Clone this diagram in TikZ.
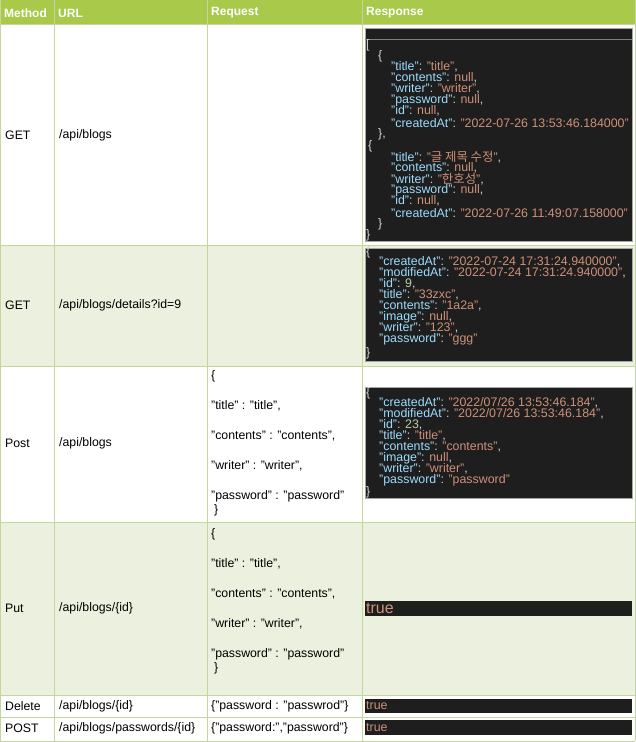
\documentclass[tikz,border=0pt]{standalone}
\usepackage{fontspec}
\setmainfont{Liberation Sans}
\newfontfamily\kr{Noto Sans CJK KR}
\definecolor{hdr}{HTML}{A9C94A}
\definecolor{alt}{HTML}{EBF1DE}
\definecolor{grid}{HTML}{C4D79B}
\definecolor{dk}{HTML}{1E1E1E}
\definecolor{jkey}{HTML}{9CDCFE}
\definecolor{jstr}{HTML}{CE9178}
\definecolor{jnum}{HTML}{B5CEA8}
\definecolor{jpun}{HTML}{D4D4D4}
\newcommand\jk[1]{\textcolor{jkey}{"#1"}\textcolor{jpun}{:} }
\newcommand\js[1]{\textcolor{jstr}{"#1"}}
\newcommand\jn[1]{\textcolor{jnum}{#1}}
\newcommand\jnull{\textcolor{jstr}{null}}
\newcommand\jc{\textcolor{jpun}{,}}
\begin{document}
\begin{tikzpicture}[x=1pt,y=-1pt,
  cell/.style={anchor=west,inner sep=0pt,font=\fontsize{12.3}{12}\selectfont},
  head/.style={anchor=west,inner sep=0pt,font=\bfseries\fontsize{12}{12}\selectfont,text=white},
  js/.style={anchor=west,inner sep=0pt,font=\fontsize{12.4}{11}\selectfont,text=jpun},
  dbox/.style={fill=dk,draw=gray!70}]
\useasboundingbox (0,0) rectangle (636,742);
\fill[white] (0,0) rectangle (636,742);
\fill[hdr] (0,0) rectangle (635,24);
\fill[alt] (0,245) rectangle (635,366);
\fill[alt] (0,522) rectangle (635,695);
\foreach \y in {24,245,366,522,695,717,741} \draw[grid] (0,\y) -- (635,\y);
\foreach \x in {0,54,207,362,635} \draw[grid] (\x,0) -- (\x,741);
\node[head] (h1) at (4,13) {Method};
\node[head] (h2) at (58,13) {URL};
\node[head] (h3) at (211,13) {Request};
\node[head] (h4) at (366,13) {Response};
% methods & urls
\node[cell] (m1) at (5,135) {GET};\node[cell] (u1) at (59,135) {/api/blogs};
\node[cell] (m2) at (5,305) {GET};\node[cell] (u2) at (59,305) {/api/blogs/details?id=9};
\node[cell] (m3) at (5,443) {Post};\node[cell] (u3) at (59,443) {/api/blogs};
\node[cell] (m4) at (5,608) {Put};\node[cell] (u4) at (59,608) {/api/blogs/\{id\}};
\node[cell] (m5) at (5,706) {Delete};\node[cell] (u5) at (59,706) {/api/blogs/\{id\}};
\node[cell] (m6) at (5,728) {POST};\node[cell] (u6) at (59,728) {/api/blogs/passwords/\{id\}};
% requests
\node[cell] (r3a) at (211,376) {\{};
\node[cell] (r3b) at (211,406) {"title" : "title",};
\node[cell] (r3c) at (211,436) {"contents" : "contents",};
\node[cell] (r3d) at (211,466) {"writer" : "writer",};
\node[cell] (r3e) at (211,496) {"password" : "password"};
\node[cell] (r3f) at (214,510) {\}};
\node[cell] (r4a) at (211,534) {\{};
\node[cell] (r4b) at (211,564) {"title" : "title",};
\node[cell] (r4c) at (211,594) {"contents" : "contents",};
\node[cell] (r4d) at (211,624) {"writer" : "writer",};
\node[cell] (r4e) at (211,654) {"password" : "password"};
\node[cell] (r4f) at (214,668) {\}};
\node[cell] (r5) at (211,706) {\{"password : "passwrod"\}};
\node[cell] (r6) at (211,728) {\{"password:","password"\}};
% response 1
\draw[dbox] (365,28) rectangle (632,241);
\draw[gray] (365,39) -- (632,39);
\node[js] at (366,45) {[};
\node[js] at (378,56) {\{};
\node[js] at (391,67) {\jk{title}\js{title}\jc};
\node[js] at (391,78) {\jk{contents}\jnull\jc};
\node[js] at (391,89) {\jk{writer}\js{writer}\jc};
\node[js] at (391,100) {\jk{password}\jnull\jc};
\node[js] at (391,111) {\jk{id}\jnull\jc};
\node[js] at (391,123) {\jk{createdAt}\js{2022-07-26 13:53:46.184000}};
\node[js] at (378,134) {\},};
\node[js] at (368,146) {\{};
\node[js] at (391,157) {\jk{title}\textcolor{jstr}{"{\kr 글 제목 수정}"}\jc};
\node[js] at (391,168) {\jk{contents}\jnull\jc};
\node[js] at (391,179) {\jk{writer}\textcolor{jstr}{"{\kr 한호성}"}\jc};
\node[js] at (391,190) {\jk{password}\jnull\jc};
\node[js] at (391,201) {\jk{id}\jnull\jc};
\node[js] at (391,213) {\jk{createdAt}\js{2022-07-26 11:49:07.158000}};
\node[js] at (378,224) {\}};
\node[js] at (366,235) {\}};
% response 2
\draw[dbox] (365,248) rectangle (632,361);
\node[js] at (366,252) {\{};
\node[js] at (379,262) {\jk{createdAt}\js{2022-07-24 17:31:24.940000}\jc};
\node[js] at (379,273) {\jk{modifiedAt}\js{2022-07-24 17:31:24.940000}\jc};
\node[js] at (379,284) {\jk{id}\jn{9}\jc};
\node[js] at (379,295) {\jk{title}\js{33zxc}\jc};
\node[js] at (379,306) {\jk{contents}\js{1a2a}\jc};
\node[js] at (379,317) {\jk{image}\jnull\jc};
\node[js] at (379,328) {\jk{writer}\js{123}\jc};
\node[js] at (379,339) {\jk{password}\js{ggg}};
\node[js] at (366,353) {\}};
% response 3
\draw[dbox] (365,387) rectangle (632,498);
\node[js] at (366,393) {\{};
\node[js] at (379,403) {\jk{createdAt}\js{2022/07/26 13:53:46.184}\jc};
\node[js] at (379,414) {\jk{modifiedAt}\js{2022/07/26 13:53:46.184}\jc};
\node[js] at (379,425) {\jk{id}\jn{23}\jc};
\node[js] at (379,436) {\jk{title}\js{title}\jc};
\node[js] at (379,447) {\jk{contents}\js{contents}\jc};
\node[js] at (379,458) {\jk{image}\jnull\jc};
\node[js] at (379,469) {\jk{writer}\js{writer}\jc};
\node[js] at (379,480) {\jk{password}\js{password}};
\node[js] at (366,492) {\}};
% true bars
\fill[dk] (365,601) rectangle (632,616);
\node[js,font=\fontsize{16}{16}\selectfont,text=jstr] (t4) at (366,608) {true};
\fill[dk] (365,699) rectangle (632,713);
\node[js,text=jstr] (t5) at (366,706) {true};
\fill[dk] (365,720) rectangle (632,735);
\node[js,text=jstr] (t6) at (366,728) {true};
\end{tikzpicture}
\end{document}
